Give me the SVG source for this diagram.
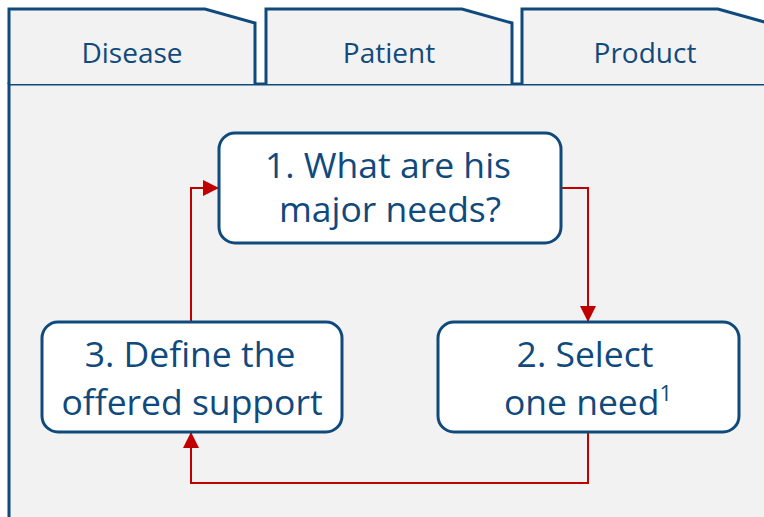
<svg xmlns="http://www.w3.org/2000/svg" width="764" height="517" viewBox="0 0 764 517">
<defs>
<style>
.tab{fill:#f2f2f2;stroke:#104a7d;stroke-width:3;stroke-linejoin:miter}
.box{fill:#ffffff;stroke:#104a7d;stroke-width:3}
.t{font-family:"Open Sans","Noto Sans",sans-serif;fill:#104a7d;text-anchor:middle}
.tt{font-size:28px}
.bt{font-size:35.5px}
.c{fill:none;stroke:#c00000;stroke-width:2}
</style>
<marker id="ah2" viewBox="0 0 16 16" refX="16" refY="8" markerWidth="16" markerHeight="16" markerUnits="userSpaceOnUse" orient="auto">
<path d="M0,0 L16,8 L0,16 Z" fill="#c00000"/>
</marker>
</defs>
<rect x="0" y="0" width="764" height="517" fill="#ffffff"/>
<g id="panel">
<rect x="9" y="84" width="770" height="450" fill="#f2f2f2" stroke="#104a7d" stroke-width="3"/>
</g>
<g id="tab-disease">
<path class="tab" d="M9,84 V9 H205 L255,23 V84"/>
<text class="t tt" x="132" y="63">Disease</text>
</g>
<g id="tab-patient">
<path class="tab" d="M266,84 V9 H462 L512,23 V84"/>
<text class="t tt" x="389" y="63">Patient</text>
</g>
<g id="tab-product">
<path class="tab" d="M522,84 V9 H718 L768,23 V84"/>
<text class="t tt" x="645" y="63">Product</text>
</g>
<g id="connectors">
<path class="c" d="M561,188 H588 V322" marker-end="url(#ah2)"/>
<path class="c" d="M588,432 V483 H191 V432" marker-end="url(#ah2)"/>
<path class="c" d="M191,322 V188 H219" marker-end="url(#ah2)"/>
</g>
<g id="node1">
<rect class="box" x="219" y="133" width="342" height="110" rx="16"/>
<text class="t bt" x="388" y="178">1. What are his</text>
<text class="t bt" x="390" y="222">major needs?</text>
</g>
<g id="node2">
<rect class="box" x="438" y="322" width="301" height="110" rx="16"/>
<text class="t bt" x="585" y="367">2. Select</text>
<text class="t bt" x="588" y="415">one need<tspan font-size="22" dy="-14">1</tspan></text>
</g>
<g id="node3">
<rect class="box" x="42" y="322" width="300" height="110" rx="16"/>
<text class="t bt" x="190" y="367">3. Define the</text>
<text class="t bt" x="192" y="415">offered support</text>
</g>
</svg>
